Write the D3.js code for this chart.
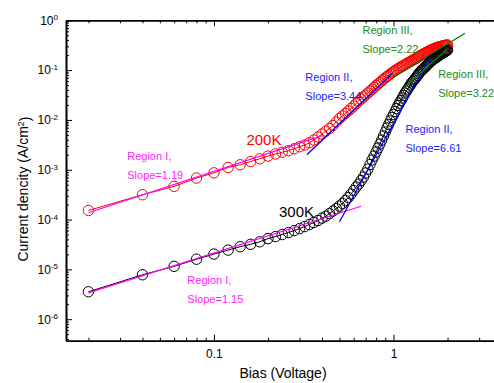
<!DOCTYPE html>
<html>
<head>
<meta charset="utf-8">
<script src="https://cdn.jsdelivr.net/npm/d3@7"></script>
<style>
	body { margin: 0; background: #fff; }
	text { font-family: "Liberation Sans", Arial, sans-serif; }
</style>
</head>
<body>
<div id="plot"></div>
<script>
// bias points (V), 0.02 V step
var bias = [
	0.02, 0.04, 0.06, 0.08, 0.10, 0.12, 0.14, 0.16, 0.18, 0.20,
	0.22, 0.24, 0.26, 0.28, 0.30, 0.32, 0.34, 0.36, 0.38, 0.40,
	0.42, 0.44, 0.46, 0.48, 0.50, 0.52, 0.54, 0.56, 0.58, 0.60,
	0.62, 0.64, 0.66, 0.68, 0.70, 0.72, 0.74, 0.76, 0.78, 0.80,
	0.82, 0.84, 0.86, 0.88, 0.90, 0.92, 0.94, 0.96, 0.98, 1.00,
	1.02, 1.04, 1.06, 1.08, 1.10, 1.12, 1.14, 1.16, 1.18, 1.20,
	1.22, 1.24, 1.26, 1.28, 1.30, 1.32, 1.34, 1.36, 1.38, 1.40,
	1.42, 1.44, 1.46, 1.48, 1.50, 1.52, 1.54, 1.56, 1.58, 1.60,
	1.62, 1.64, 1.66, 1.68, 1.70, 1.72, 1.74, 1.76, 1.78, 1.80,
	1.82, 1.84, 1.86, 1.88, 1.90, 1.92, 1.94, 1.96, 1.98, 2.00
];

// current density (A/cm2) at 200K
var j200 = [
	1.52e-4, 3.15e-4, 4.64e-4, 6.81e-4, 8.67e-4, 1.11e-3, 1.26e-3, 1.46e-3, 1.66e-3, 1.88e-3,
	2.07e-3, 2.24e-3, 2.41e-3, 2.64e-3, 2.90e-3, 3.13e-3, 3.48e-3, 3.95e-3, 4.54e-3, 5.21e-3,
	5.98e-3, 6.72e-3, 7.72e-3, 9.08e-3, 1.07e-2, 1.20e-2, 1.35e-2, 1.51e-2, 1.69e-2, 1.90e-2,
	2.14e-2, 2.40e-2, 2.63e-2, 2.88e-2, 3.16e-2, 3.47e-2, 3.80e-2, 4.13e-2, 4.50e-2, 4.89e-2,
	5.26e-2, 5.66e-2, 6.10e-2, 6.53e-2, 7.00e-2, 7.43e-2, 7.90e-2, 8.35e-2, 8.83e-2, 9.33e-2,
	9.77e-2, 0.102, 0.107, 0.111, 0.115, 0.120, 0.124, 0.129, 0.134, 0.139,
	0.143, 0.148, 0.153, 0.158, 0.163, 0.169, 0.174, 0.180, 0.186, 0.192,
	0.197, 0.203, 0.209, 0.214, 0.220, 0.226, 0.231, 0.236, 0.242, 0.248,
	0.253, 0.258, 0.263, 0.268, 0.273, 0.278, 0.282, 0.286, 0.290, 0.294,
	0.296, 0.299, 0.302, 0.305, 0.308, 0.310, 0.313, 0.316, 0.318, 0.319
];

// current density (A/cm2) at 300K
var j300 = [
	3.55e-6, 7.79e-6, 1.15e-5, 1.60e-5, 2.03e-5, 2.44e-5, 2.85e-5, 3.18e-5, 3.58e-5, 4.15e-5,
	4.56e-5, 5.00e-5, 5.48e-5, 6.01e-5, 6.59e-5, 7.23e-5, 7.94e-5, 8.71e-5, 9.55e-5, 1.07e-4,
	1.17e-4, 1.32e-4, 1.48e-4, 1.66e-4, 1.87e-4, 2.10e-4, 2.41e-4, 2.77e-4, 3.25e-4, 3.82e-4,
	4.50e-4, 5.16e-4, 6.07e-4, 7.13e-4, 8.59e-4, 1.03e-3, 1.27e-3, 1.57e-3, 1.88e-3, 2.27e-3,
	2.73e-3, 3.28e-3, 3.95e-3, 4.75e-3, 5.71e-3, 6.88e-3, 8.09e-3, 9.51e-3, 1.12e-2, 1.28e-2,
	1.47e-2, 1.69e-2, 1.95e-2, 2.18e-2, 2.45e-2, 2.75e-2, 3.09e-2, 3.47e-2, 3.80e-2, 4.17e-2,
	4.58e-2, 5.02e-2, 5.51e-2, 5.90e-2, 6.33e-2, 6.78e-2, 7.27e-2, 7.79e-2, 8.35e-2, 8.95e-2,
	9.59e-2, 0.100, 0.105, 0.110, 0.115, 0.121, 0.127, 0.133, 0.139, 0.146,
	0.152, 0.157, 0.163, 0.167, 0.173, 0.178, 0.183, 0.188, 0.194, 0.199,
	0.205, 0.211, 0.216, 0.220, 0.226, 0.231, 0.236, 0.242, 0.248, 0.253
];

// fitted lines: start/end bias and current density
var fitV1 = [0.02, 0.02, 0.33, 0.50, 1.00, 1.15];
var fitV2 = [0.40, 0.66, 0.99, 1.60, 2.50, 2.00];
var fitJ1 = [1.37e-4, 3.39e-6, 2.02e-3, 9.04e-5, 7.27e-2, 4.51e-2];
var fitJ2 = [4.86e-3, 1.85e-4, 8.75e-2, 0.186, 0.548, 0.268];
var fitColors = ["#ff00ff", "#ff00ff", "#0000ff", "#0000ff", "#008000", "#008000"];

// annotations
var noteLine1 = ["Region I,", "Region I,", "Region II,", "Region II,", "Region III,", "Region III,"];
var noteLine2 = ["Slope=1.19", "Slope=1.15", "Slope=3.44", "Slope=6.61", "Slope=2.22", "Slope=3.22"];
var noteV = [0.0329, 0.0711, 0.323, 1.166, 0.672, 1.773];
var noteJ = [1.57e-3, 5.07e-6, 0.0604, 5.46e-3, 0.531, 0.0694];
var noteColors = ["#ff22ff", "#ff22ff", "#2222ff", "#2222ff", "#1a8a1a", "#1a8a1a"];

var seriesNames = ["200K", "300K"];
var seriesLabelV = [0.1516, 0.2303];
var seriesLabelJ = [3.13e-3, 1.14e-4];
var seriesColors = ["#ff0000", "#000000"];

var xMajor = [0.1, 1];
var yMajorExp = [-6, -5, -4, -3, -2, -1, 0];

var width = 494, height = 383;

var svg = d3.select("#plot").append("svg")
	.attr("width", width)
	.attr("height", height);

var x = d3.scaleLog().domain([0.015, 5]).range([66, 519]);
var y = d3.scaleLog().domain([3.7e-7, 1]).range([340.7, 20.3]);

var yMajor = yMajorExp.map(function(e) { return Math.pow(10, e); });
function isMajor(list, v) {
	return list.some(function(m) { return Math.abs(m - v) / m < 1e-6; });
}
var xMinor = x.ticks().filter(function(d) { return !isMajor(xMajor, d); });
var yMinor = y.ticks().filter(function(d) { return !isMajor(yMajor, d); });

// data first, fits and text on top
var series = [j200, j300];
series.forEach(function(vals, k) {
	var pts = bias.map(function(v, i) { return [v, vals[i]]; });
	var g = svg.append("g");
	g.append("path")
		.datum(pts)
		.attr("d", d3.line().x(function(d) { return x(d[0]); }).y(function(d) { return y(d[1]); }))
		.attr("fill", "none")
		.attr("stroke", seriesColors[k])
		.attr("stroke-width", 1);
	g.selectAll("circle")
		.data(pts)
		.enter().append("circle")
		.attr("cx", function(d) { return x(d[0]); })
		.attr("cy", function(d) { return y(d[1]); })
		.attr("r", 5.2)
		.attr("fill", "none")
		.attr("stroke", seriesColors[k])
		.attr("stroke-width", 1);
});

svg.append("g")
	.selectAll("line")
	.data(fitV1)
	.enter().append("line")
	.attr("x1", function(d, i) { return x(fitV1[i]); })
	.attr("y1", function(d, i) { return y(fitJ1[i]); })
	.attr("x2", function(d, i) { return x(fitV2[i]); })
	.attr("y2", function(d, i) { return y(fitJ2[i]); })
	.attr("stroke", function(d, i) { return fitColors[i]; })
	.attr("stroke-width", 1.3);

// axes (ticks inward)
function styleAxis(g) {
	g.selectAll(".domain").attr("stroke-width", 1.6);
	g.selectAll(".tick line").attr("stroke-width", 1);
	g.selectAll("text").attr("font-size", "12px").attr("font-family", "Liberation Sans, Arial, sans-serif").attr("fill", "#000");
}

svg.append("g")
	.attr("transform", "translate(0,340.7)")
	.call(d3.axisBottom(x).tickValues(xMinor).tickSizeInner(-3).tickSizeOuter(0).tickFormat(""))
	.call(styleAxis);
svg.append("g")
	.attr("transform", "translate(0,340.7)")
	.call(d3.axisBottom(x).tickValues(xMajor).tickSizeInner(-6).tickSizeOuter(0).tickPadding(9)
		.tickFormat(function(d) { return String(d); }))
	.call(styleAxis);

svg.append("g")
	.attr("transform", "translate(0,20.3)")
	.call(d3.axisTop(x).tickValues(xMinor).tickSizeInner(-3).tickSizeOuter(0).tickFormat(""))
	.call(styleAxis);
svg.append("g")
	.attr("transform", "translate(0,20.3)")
	.call(d3.axisTop(x).tickValues(xMajor).tickSizeInner(-6).tickSizeOuter(0).tickFormat(""))
	.call(styleAxis);

svg.append("g")
	.attr("transform", "translate(66,0)")
	.call(d3.axisLeft(y).tickValues(yMinor).tickSizeInner(-3).tickSizeOuter(0).tickFormat(""))
	.call(styleAxis);
var yAx = svg.append("g")
	.attr("transform", "translate(66,0)")
	.call(d3.axisLeft(y).tickValues(yMajor).tickSizeInner(-6).tickSizeOuter(0).tickPadding(8)
		.tickFormat(function() { return "10"; }))
	.call(styleAxis);
yAx.selectAll(".tick text")
	.append("tspan")
	.attr("dy", "-0.55em")
	.attr("font-size", "8px")
	.text(function(d) { return Math.round(Math.log10(d)); });

// annotations
var notes = svg.append("g");
noteLine1.forEach(function(t, i) {
	var tx = notes.append("text")
		.attr("x", x(noteV[i]))
		.attr("y", y(noteJ[i]))
		.attr("font-size", "11px")
		.attr("fill", noteColors[i]);
	tx.append("tspan").text(t);
	tx.append("tspan").attr("x", x(noteV[i])).attr("dy", 19).text(noteLine2[i]);
});

seriesNames.forEach(function(t, i) {
	svg.append("text")
		.attr("x", x(seriesLabelV[i]))
		.attr("y", y(seriesLabelJ[i]))
		.attr("font-size", "15px")
		.attr("fill", seriesColors[i])
		.text(t);
});

// axis titles
svg.append("text")
	.attr("x", 283)
	.attr("y", 378)
	.attr("text-anchor", "middle")
	.attr("font-size", "14px")
	.text("Bias (Voltage)");

var yt = svg.append("text")
	.attr("transform", "translate(28,189) rotate(-90)")
	.attr("text-anchor", "middle")
	.attr("font-size", "14px");
yt.append("tspan").text("Current dencity (A/cm");
yt.append("tspan").attr("dy", "-0.45em").attr("font-size", "9px").text("2");
yt.append("tspan").attr("dy", "0.45em").text(")");
</script>
</body>
</html>
